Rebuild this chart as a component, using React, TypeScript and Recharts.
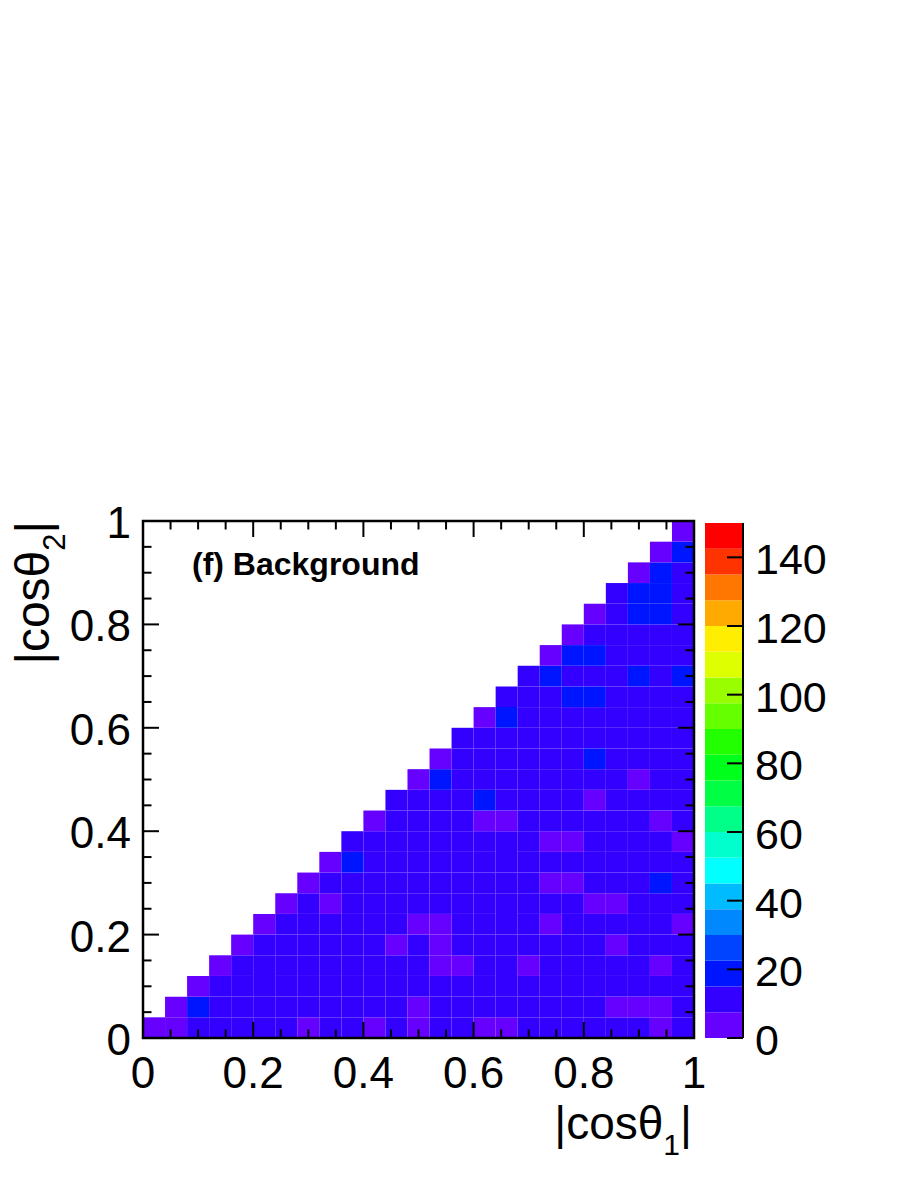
import React from 'react';
import { ComposedChart, XAxis, YAxis, ReferenceArea } from 'recharts';

const W = 913;
const H = 1182;
const FONT = '"Liberation Sans", Arial, Helvetica, sans-serif';

// 25 bins of |cos theta| on both axes
const binEdges = [
  0, 0.04, 0.08, 0.12, 0.16, 0.2, 0.24, 0.28, 0.32, 0.36, 0.4, 0.44, 0.48,
  0.52, 0.56, 0.6, 0.64, 0.68, 0.72, 0.76, 0.8, 0.84, 0.88, 0.92, 0.96, 1,
];
const majorTicks = [0, 0.2, 0.4, 0.6, 0.8, 1];
const minorTicks = [
  0.05, 0.1, 0.15, 0.25, 0.3, 0.35, 0.45, 0.5, 0.55, 0.65, 0.7, 0.75, 0.85, 0.9, 0.95,
];
const axisTicks = [...majorTicks, ...minorTicks];

// colour scale (z axis)
const zTicks = [0, 20, 40, 60, 80, 100, 120, 140];
const zLevels = [
  0, 7.5, 15, 22.5, 30, 37.5, 45, 52.5, 60, 67.5, 75, 82.5, 90, 97.5, 105,
  112.5, 120, 127.5, 135, 142.5, 150,
];
const palette = [
  '#6600ff', '#3300ff', '#0015ff', '#0044ff', '#0088ff', '#00bbff', '#00ffff',
  '#00ffcc', '#00ff88', '#00ff44', '#00ff1a', '#22ff00', '#66ff00', '#99ff00',
  '#ddff00', '#ffee00', '#ffaa00', '#ff7700', '#ff3300', '#ff0000',
];

const _ = null;
// counts[j][i] : j = |cos θ2| bin (bottom to top), i = |cos θ1| bin (left to right)
const counts: (number | null)[][] = [
  [5, 6, 10, 11, 12, 11, 12, 7, 11, 12, 6, 11, 7, 12, 11, 6, 7, 11, 12, 12, 11, 12, 11, 7, 12],
  [_, 6, 17, 12, 11, 12, 12, 11, 12, 11, 12, 11, 6, 11, 12, 12, 11, 12, 11, 12, 11, 7, 6, 7, 12],
  [_, _, 6, 11, 12, 12, 11, 12, 12, 11, 12, 12, 11, 12, 11, 12, 12, 11, 12, 12, 11, 12, 11, 12, 12],
  [_, _, _, 5, 11, 12, 12, 11, 12, 11, 12, 12, 11, 7, 6, 12, 11, 7, 12, 11, 12, 12, 11, 6, 12],
  [_, _, _, _, 6, 11, 12, 11, 12, 12, 11, 7, 12, 6, 11, 12, 12, 11, 12, 12, 11, 7, 12, 11, 12],
  [_, _, _, _, _, 5, 12, 11, 12, 12, 11, 12, 7, 6, 12, 11, 12, 12, 7, 11, 12, 12, 11, 12, 7],
  [_, _, _, _, _, _, 6, 12, 7, 12, 11, 12, 12, 11, 12, 12, 11, 12, 12, 11, 6, 7, 12, 11, 12],
  [_, _, _, _, _, _, _, 6, 12, 11, 12, 12, 11, 12, 12, 11, 12, 11, 7, 6, 12, 11, 12, 17, 12],
  [_, _, _, _, _, _, _, _, 6, 18, 12, 11, 12, 12, 11, 12, 12, 11, 12, 12, 11, 12, 11, 12, 12],
  [_, _, _, _, _, _, _, _, _, 10, 12, 11, 12, 12, 11, 12, 12, 11, 7, 6, 12, 11, 12, 12, 7],
  [_, _, _, _, _, _, _, _, _, _, 6, 12, 11, 12, 12, 7, 6, 12, 11, 12, 12, 11, 12, 7, 12],
  [_, _, _, _, _, _, _, _, _, _, _, 10, 12, 11, 12, 17, 12, 11, 12, 12, 7, 12, 11, 12, 12],
  [_, _, _, _, _, _, _, _, _, _, _, _, 6, 17, 12, 11, 12, 12, 11, 12, 12, 11, 7, 12, 11],
  [_, _, _, _, _, _, _, _, _, _, _, _, _, 6, 12, 11, 12, 12, 11, 12, 17, 12, 11, 12, 12],
  [_, _, _, _, _, _, _, _, _, _, _, _, _, _, 10, 12, 11, 12, 12, 11, 12, 12, 11, 12, 12],
  [_, _, _, _, _, _, _, _, _, _, _, _, _, _, _, 6, 17, 12, 11, 12, 12, 11, 12, 12, 11],
  [_, _, _, _, _, _, _, _, _, _, _, _, _, _, _, _, 10, 12, 11, 17, 18, 12, 11, 12, 12],
  [_, _, _, _, _, _, _, _, _, _, _, _, _, _, _, _, _, 10, 18, 12, 11, 12, 17, 12, 16],
  [_, _, _, _, _, _, _, _, _, _, _, _, _, _, _, _, _, _, 6, 17, 18, 12, 11, 12, 12],
  [_, _, _, _, _, _, _, _, _, _, _, _, _, _, _, _, _, _, _, 6, 12, 11, 12, 12, 11],
  [_, _, _, _, _, _, _, _, _, _, _, _, _, _, _, _, _, _, _, _, 6, 12, 18, 17, 12],
  [_, _, _, _, _, _, _, _, _, _, _, _, _, _, _, _, _, _, _, _, _, 10, 18, 17, 12],
  [_, _, _, _, _, _, _, _, _, _, _, _, _, _, _, _, _, _, _, _, _, _, 6, 17, 12],
  [_, _, _, _, _, _, _, _, _, _, _, _, _, _, _, _, _, _, _, _, _, _, _, 7, 16],
  [_, _, _, _, _, _, _, _, _, _, _, _, _, _, _, _, _, _, _, _, _, _, _, _, 6],
];

const colorFor = (v: number) => {
  let k = 0;
  while (k < palette.length - 1 && v >= zLevels[k + 1]) k++;
  return palette[k];
};

const cells: { x1: number; x2: number; y1: number; y2: number; fill: string }[] = [];
counts.forEach((row, j) =>
  row.forEach((v, i) => {
    if (v == null) return;
    cells.push({
      x1: binEdges[i],
      x2: binEdges[i + 1],
      y1: binEdges[j],
      y2: binEdges[j + 1],
      fill: colorFor(v),
    });
  })
);

const isMajor = (v: number) => majorTicks.includes(v);
const MAJ = 16;
const MIN = 8.5;
const LABEL_SIZE = 44;

const BottomTick = ({ x, y, payload }: any) => {
  const major = isMajor(payload.value);
  return (
    <g>
      <line x1={x} x2={x} y1={y} y2={y - (major ? MAJ : MIN)} stroke="#000" strokeWidth={2} />
      {major && (
        <text x={x} y={y + 50} textAnchor="middle" fontSize={LABEL_SIZE} fontFamily={FONT} fill="#000">
          {String(payload.value)}
        </text>
      )}
    </g>
  );
};

const TopTick = ({ x, y, payload }: any) => (
  <line x1={x} x2={x} y1={y} y2={y + (isMajor(payload.value) ? MAJ : MIN)} stroke="#000" strokeWidth={2} />
);

const LeftTick = ({ x, y, payload }: any) => {
  const major = isMajor(payload.value);
  return (
    <g>
      <line x1={x} x2={x + (major ? MAJ : MIN)} y1={y} y2={y} stroke="#000" strokeWidth={2} />
      {major && (
        <text x={x - 12} y={y + 17} textAnchor="end" fontSize={LABEL_SIZE} fontFamily={FONT} fill="#000">
          {String(payload.value)}
        </text>
      )}
    </g>
  );
};

const RightTick = ({ x, y, payload }: any) => (
  <line x1={x} x2={x - (isMajor(payload.value) ? MAJ : MIN)} y1={y} y2={y} stroke="#000" strokeWidth={2} />
);

const ZTick = ({ x, y, payload }: any) => (
  <g>
    <line x1={x - 16} x2={x} y1={y} y2={y} stroke="#000" strokeWidth={2} />
    <text x={x + 12} y={y + 17} textAnchor="start" fontSize={43} fontFamily={FONT} fill="#000">
      {String(payload.value)}
    </text>
  </g>
);

const XTitle = () => (
  <text x={692} y={1139} textAnchor="end" fontSize={46} fontFamily={FONT} fill="#000">
    |cosθ
    <tspan fontSize={30} dy={16}>1</tspan>
    <tspan dy={-16}>|</tspan>
  </text>
);

const YTitle = () => (
  <text
    x={0}
    y={0}
    transform="translate(49,521) rotate(-90)"
    textAnchor="end"
    fontSize={48}
    fontFamily={FONT}
    fill="#000"
  >
    |cosθ
    <tspan fontSize={31} dy={16}>2</tspan>
    <tspan dy={-16}>|</tspan>
  </text>
);

const Annotation = () => (
  <text x={192} y={575} fontSize={32} fontWeight="bold" fontFamily={FONT} fill="#000">
    (f) Background
  </text>
);

// plot frame in pixels
const PL = 143;
const PR = 694;
const PT = 521;
const PB = 1038;

export default function App() {
  return (
    <div style={{ position: 'absolute', left: 0, top: 0, width: W, height: H, background: '#fff' }}>
      <div style={{ position: 'absolute', left: 0, top: 0 }}>
        <ComposedChart
          width={W}
          height={H}
          data={[{ x: 0, y: 0 }]}
          margin={{ top: PT - 1, right: W - PR - 1, bottom: H - PB - 1, left: PL - 1 }}
        >
          {cells.map((c, idx) => (
            <ReferenceArea
              key={idx}
              xAxisId="b"
              yAxisId="l"
              x1={c.x1}
              x2={c.x2}
              y1={c.y1}
              y2={c.y2}
              fill={c.fill}
              fillOpacity={1}
              stroke="none"
              ifOverflow="visible"
            />
          ))}
          <ReferenceArea
            xAxisId="b"
            yAxisId="l"
            x1={0}
            x2={1}
            y1={0}
            y2={1}
            fill="none"
            stroke="#000"
            strokeWidth={2.5}
            ifOverflow="visible"
          />
          <XAxis
            xAxisId="b"
            type="number"
            dataKey="x"
            domain={[0, 1]}
            allowDataOverflow
            ticks={axisTicks}
            interval={0}
            height={1}
            tickSize={0}
            tickMargin={0}
            axisLine={false}
            tickLine={false}
            tick={<BottomTick />}
            label={{ content: () => <XTitle /> }}
          />
          <XAxis
            xAxisId="t"
            orientation="top"
            type="number"
            dataKey="x"
            domain={[0, 1]}
            allowDataOverflow
            ticks={axisTicks}
            interval={0}
            height={1}
            tickSize={0}
            tickMargin={0}
            axisLine={false}
            tickLine={false}
            tick={<TopTick />}
            label={{ content: () => <Annotation /> }}
          />
          <YAxis
            yAxisId="l"
            type="number"
            dataKey="y"
            domain={[0, 1]}
            allowDataOverflow
            ticks={axisTicks}
            interval={0}
            width={1}
            tickSize={0}
            tickMargin={0}
            axisLine={false}
            tickLine={false}
            tick={<LeftTick />}
            label={{ content: () => <YTitle /> }}
          />
          <YAxis
            yAxisId="r"
            orientation="right"
            type="number"
            dataKey="y"
            domain={[0, 1]}
            allowDataOverflow
            ticks={axisTicks}
            interval={0}
            width={1}
            tickSize={0}
            tickMargin={0}
            axisLine={false}
            tickLine={false}
            tick={<RightTick />}
          />
        </ComposedChart>
      </div>
      <div style={{ position: 'absolute', left: 0, top: 0 }}>
        <ComposedChart
          width={W}
          height={H}
          data={[{ x: 0, z: 0 }]}
          margin={{ top: 523, right: W - 743 - 1, bottom: H - PB, left: 705 }}
        >
          <XAxis type="number" dataKey="x" domain={[0, 1]} allowDataOverflow hide />
          {palette.map((col, k) => (
            <ReferenceArea
              key={k}
              x1={0}
              x2={1}
              y1={zLevels[k]}
              y2={zLevels[k + 1]}
              fill={col}
              fillOpacity={1}
              stroke="none"
              ifOverflow="visible"
            />
          ))}
          <YAxis
            orientation="right"
            type="number"
            dataKey="z"
            domain={[0, 150]}
            allowDataOverflow
            ticks={zTicks}
            interval={0}
            width={1}
            tickSize={0}
            tickMargin={0}
            axisLine={{ stroke: '#000', strokeWidth: 2 }}
            tickLine={false}
            tick={<ZTick />}
          />
        </ComposedChart>
      </div>
    </div>
  );
}
